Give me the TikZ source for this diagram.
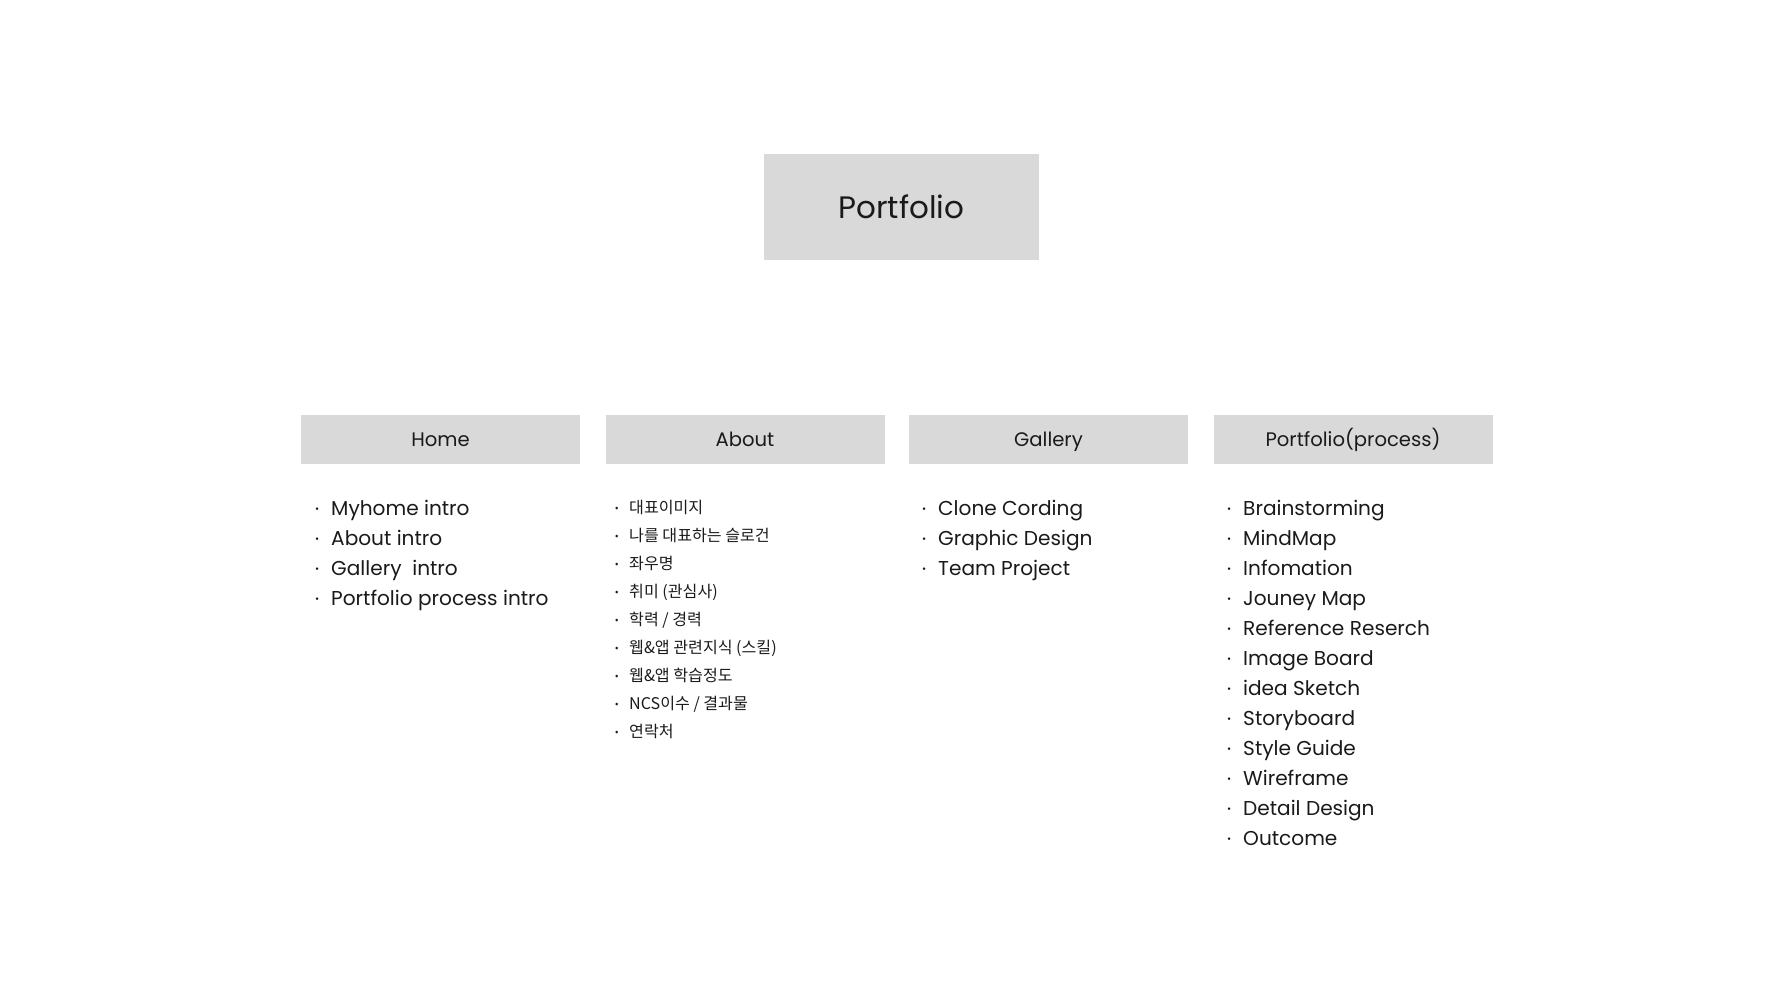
\documentclass[tikz,border=0pt]{standalone}
\usepackage{fontspec}
\setmainfont{Poppins}
\newfontfamily\krfont{Noto Sans CJK KR}
\usetikzlibrary{positioning}
\definecolor{boxgray}{HTML}{D9D9D9}
\definecolor{inkgray}{HTML}{1A1A1A}
\newcommand{\dotmark}[2]{\llap{\makebox[#1][l]{\raisebox{#2}{\fontsize{10}{10}\selectfont\textbullet}}}}

\begin{document}
\begin{tikzpicture}[x=1pt,y=-1pt,text=inkgray,
    site node/.style={rectangle,fill=boxgray,minimum width=275pt,minimum height=106pt,inner sep=0pt,font=\fontsize{31}{37}\selectfont},
    menu node/.style={rectangle,fill=boxgray,minimum width=279pt,minimum height=49pt,inner sep=0pt,text height=14pt,text depth=0pt,font=\fontsize{19.6}{23}\selectfont},
    item node/.style={anchor=base west,inner sep=0pt,font=\fontsize{20.1}{24}\selectfont},
    kr node/.style={anchor=base west,inner sep=0pt,font=\krfont\fontsize{16.1}{19}\selectfont}]
   \useasboundingbox (0,0) rectangle (1788,1000);
   \node[site node] (portfolio) at (901.5,207) {Portfolio};
   % menu row
   \node[menu node] (home) at (440.5,439.5) {Home};
   \node[menu node] (about) at (745,439.5) {About};
   \node[menu node] (gallery) at (1048.5,439.5) {Gallery};
   \node[menu node] (process) at (1353,439.5) {Portfolio(process)};
   % home
   \node[item node] (h1) at (331,515) {\dotmark{16pt}{2.5pt}Myhome intro};
   \node[item node] (h2) at (331,545) {\dotmark{16pt}{2.5pt}About intro};
   \node[item node] (h3) at (331,575) {\dotmark{16pt}{2.5pt}Gallery\ \ intro};
   \node[item node] (h4) at (331,605) {\dotmark{16pt}{2.5pt}Portfolio process intro};
   % about
   \node[kr node] (a1) at (629,513) {\dotmark{14pt}{1.5pt}대표이미지};
   \node[kr node] (a2) at (629,541) {\dotmark{14pt}{1.5pt}나를 대표하는 슬로건};
   \node[kr node] (a3) at (629,569) {\dotmark{14pt}{1.5pt}좌우명};
   \node[kr node] (a4) at (629,597) {\dotmark{14pt}{1.5pt}취미 (관심사)};
   \node[kr node] (a5) at (629,625) {\dotmark{14pt}{1.5pt}학력 / 경력};
   \node[kr node] (a6) at (629,653) {\dotmark{14pt}{1.5pt}웹\&앱 관련지식 (스킬)};
   \node[kr node] (a7) at (629,681) {\dotmark{14pt}{1.5pt}웹\&앱 학습정도};
   \node[kr node] (a8) at (629,709) {\dotmark{14pt}{1.5pt}NCS이수 / 결과물};
   \node[kr node] (a9) at (629,737) {\dotmark{14pt}{1.5pt}연락처};
   % gallery
   \node[item node] (g1) at (938,515) {\dotmark{16pt}{2.5pt}Clone Cording};
   \node[item node] (g2) at (938,545) {\dotmark{16pt}{2.5pt}Graphic Design};
   \node[item node] (g3) at (938,575) {\dotmark{16pt}{2.5pt}Team Project};
   % portfolio process
   \node[item node] (p1) at (1243,515) {\dotmark{16pt}{2.5pt}Brainstorming};
   \node[item node] (p2) at (1243,545) {\dotmark{16pt}{2.5pt}MindMap};
   \node[item node] (p3) at (1243,575) {\dotmark{16pt}{2.5pt}Infomation};
   \node[item node] (p4) at (1243,605) {\dotmark{16pt}{2.5pt}Jouney Map};
   \node[item node] (p5) at (1243,635) {\dotmark{16pt}{2.5pt}Reference Reserch};
   \node[item node] (p6) at (1243,665) {\dotmark{16pt}{2.5pt}Image Board};
   \node[item node] (p7) at (1243,695) {\dotmark{16pt}{2.5pt}idea Sketch};
   \node[item node] (p8) at (1243,725) {\dotmark{16pt}{2.5pt}Storyboard};
   \node[item node] (p9) at (1243,755) {\dotmark{16pt}{2.5pt}Style Guide};
   \node[item node] (p10) at (1243,785) {\dotmark{16pt}{2.5pt}Wireframe};
   \node[item node] (p11) at (1243,815) {\dotmark{16pt}{2.5pt}Detail Design};
   \node[item node] (p12) at (1243,845) {\dotmark{16pt}{2.5pt}Outcome};
\end{tikzpicture}
\end{document}
